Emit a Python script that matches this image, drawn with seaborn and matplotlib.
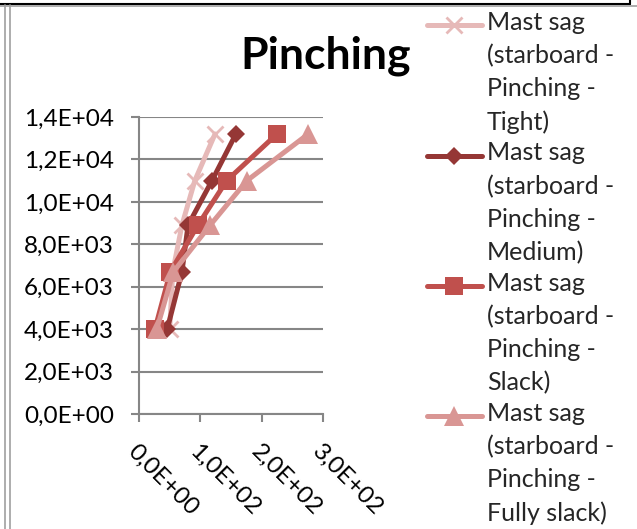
import numpy as np
import pandas as pd
import matplotlib
matplotlib.use("Agg")
import matplotlib.pyplot as plt
from matplotlib.lines import Line2D
from matplotlib.legend_handler import HandlerLine2D
from matplotlib.ticker import FuncFormatter
import seaborn as sns

# Load levels (y) shared by all series
load = [4000, 6700, 8900, 11000, 13200]

# Mast sag (x) per pinching setting
sag_tight = [50, 55, 70, 91, 124]
sag_medium = [46, 70, 80, 119, 158]
sag_slack = [26, 51, 96, 143, 225]
sag_fully_slack = [29, 56, 116, 176, 276]

series_names = [
    "Mast sag\n(starboard -\nPinching -\nTight)",
    "Mast sag\n(starboard -\nPinching -\nMedium)",
    "Mast sag\n(starboard -\nPinching -\nSlack)",
    "Mast sag\n(starboard -\nPinching -\nFully slack)",
]
series_values = [sag_tight, sag_medium, sag_slack, sag_fully_slack]

colors = ["#E6B9B8", "#953735", "#C0504D", "#D99694"]
markers = ["x", "D", "s", "^"]
marker_sizes = [12, 9, 13, 14]

x_ticks = [0, 100, 200, 300]
y_ticks = [0, 2000, 4000, 6000, 8000, 10000, 12000, 14000]

sns.set_theme(style="white")
plt.rcParams["font.family"] = ["Lato", "DejaVu Sans"]

W, H = 637, 529
fig = plt.figure(figsize=(W / 100, H / 100), dpi=100)
ax = fig.add_axes([139 / W, 1 - 414 / H, 184 / W, 297 / H])

frames = []
for name, vals in zip(series_names, series_values):
    frames.append(pd.DataFrame({"sag": vals, "load": load, "series": name}))
df = pd.concat(frames, ignore_index=True)

for name, col, mk, ms in zip(series_names, colors, markers, marker_sizes):
    sub = df[df["series"] == name]
    sns.lineplot(
        data=sub, x="sag", y="load", ax=ax, sort=False, estimator=None,
        color=col, linewidth=3.6, marker=mk, markersize=ms,
        markeredgecolor=col, markeredgewidth=2.0 if mk == "x" else 0,
        label=name, legend=False, clip_on=False,
    )

ax.set_xlim(0, 300)
ax.set_ylim(0, 14000)
ax.set_xticks(x_ticks)
ax.set_yticks(y_ticks)
ax.set_xlabel("")
ax.set_ylabel("")

fmt = FuncFormatter(lambda v, p: f"{v:.1E}".replace(".", ","))
ax.xaxis.set_major_formatter(fmt)
ax.yaxis.set_major_formatter(fmt)

grid_col = "#868686"
ax.yaxis.grid(True, color=grid_col, linewidth=1.5)
ax.xaxis.grid(False)
ax.set_axisbelow(True)
for s in ["top", "right"]:
    ax.spines[s].set_visible(False)
for s in ["left", "bottom"]:
    ax.spines[s].set_color(grid_col)
    ax.spines[s].set_linewidth(1.5)

ax.tick_params(axis="y", which="major", direction="out", length=6, width=1.5,
               color=grid_col, left=True, labelsize=17.5, pad=12, labelcolor="black")
ax.tick_params(axis="x", which="major", direction="out", length=6, width=1.5,
               color=grid_col, bottom=True, labelsize=17.5, pad=13, labelcolor="black")
for lbl in ax.get_xticklabels():
    lbl.set_rotation(-45)
    lbl.set_ha("left")
    lbl.set_va("top")
    lbl.set_rotation_mode("anchor")

fig.text(326 / W, 1 - 68 / H, "Pinching", ha="center", va="baseline",
         fontsize=32, fontweight="bold", color="black")


class FirstLineHandler(HandlerLine2D):
    """Place the legend key next to the first line of a multi-line label."""

    def __init__(self, shift, **kw):
        super().__init__(**kw)
        self.shift = shift

    def create_artists(self, *args, **kwargs):
        arts = super().create_artists(*args, **kwargs)
        for a in arts:
            a.set_ydata(np.asarray(a.get_ydata()) + self.shift)
        return arts


handles, labels = ax.get_legend_handles_labels()
leg = fig.legend(
    handles, labels, loc="upper left", bbox_to_anchor=(427 / W, 1 - 11 / H),
    frameon=False, fontsize=18, handlelength=2.2, handletextpad=0.2,
    borderpad=0, borderaxespad=0, labelspacing=0.3,
    handler_map={h: FirstLineHandler(34.5) for h in handles},
)
for t in leg.get_texts():
    t.set_linespacing(1.52)

# Surrounding window edges
fig.add_artist(Line2D([0, 630 / W], [1 - 4 / H, 1 - 4 / H], color="black", lw=1.5,
                      transform=fig.transFigure))
fig.add_artist(Line2D([630 / W, 630 / W], [1, 1 - 4 / H], color="black", lw=1.5,
                      transform=fig.transFigure))
fig.add_artist(Line2D([0, 1], [1 - 6 / H, 1 - 6 / H], color="#A0A0A0", lw=1.2,
                      transform=fig.transFigure))
for xp in (5, 10):
    fig.add_artist(Line2D([xp / W, xp / W], [0, 1 - 5 / H], color="#A0A0A0", lw=1.2,
                          transform=fig.transFigure))

fig.savefig("out.png", dpi=100, facecolor="white")
